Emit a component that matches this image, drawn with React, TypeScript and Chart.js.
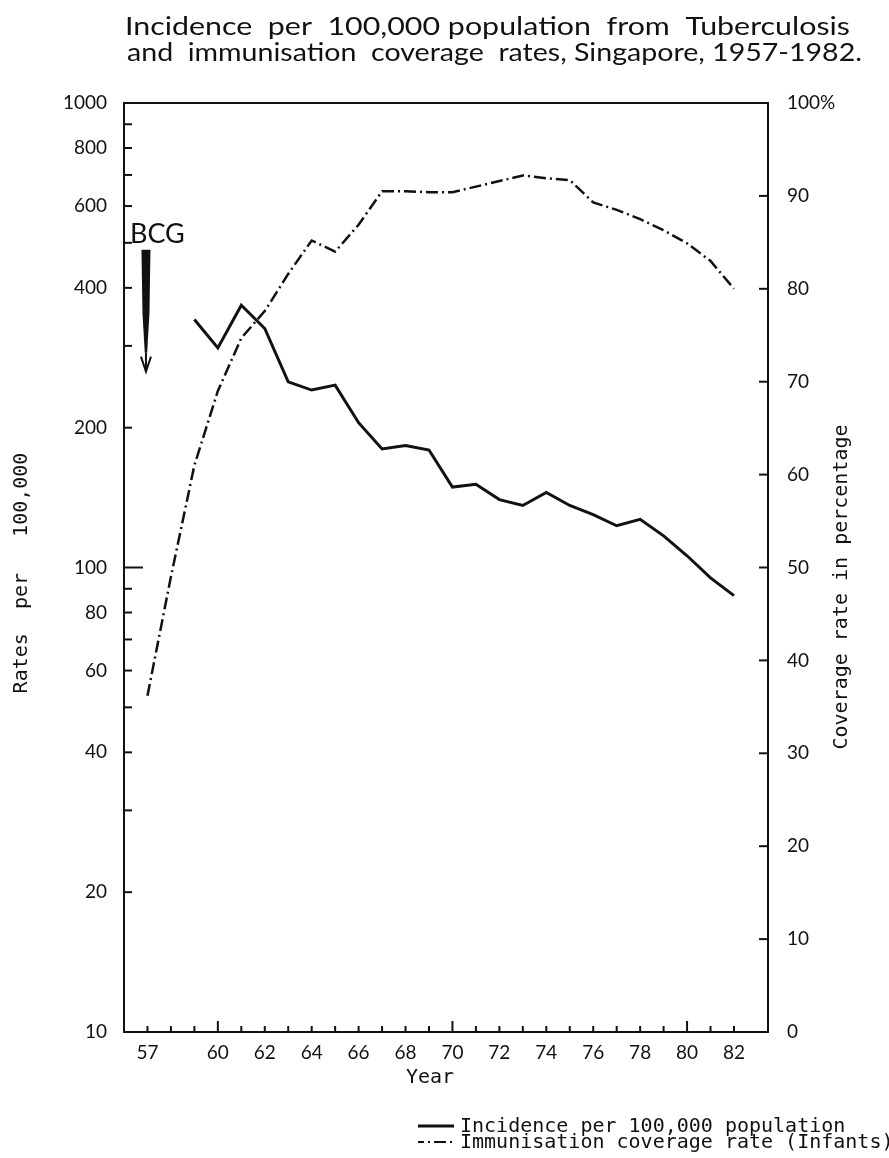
import React, { useEffect, useRef } from "react";
import { Chart, registerables } from "chart.js";

Chart.register(...registerables);

// ---- data (years 1957-1982, shown as two-digit years) ----
const years = [57, 58, 59, 60, 61, 62, 63, 64, 65, 66, 67, 68, 69, 70, 71, 72, 73, 74, 75, 76, 77, 78, 79, 80, 81, 82];
const incidenceRates = [null, null, 342, 297, 367, 327, 251, 241, 247, 205, 180, 183, 179, 149, 151, 140, 136, 145, 136, 130, 123, 127, 117, 106, 95, 87];
const coverageRates = [36.2, 49, 61, 69, 74.7, 77.6, 81.6, 85.2, 84.0, 86.9, 90.5, 90.5, 90.4, 90.4, 91.0, 91.6, 92.2, 91.9, 91.7, 89.3, 88.5, 87.5, 86.3, 84.9, 83.0, 80.0];

const xTickLabels = [57, 60, 62, 64, 66, 68, 70, 72, 74, 76, 78, 80, 82];
const xMinorTicks = years;
const leftTickLabels = [10, 20, 40, 60, 80, 100, 200, 400, 600, 800, 1000];
const leftMinorTicks = [10, 20, 30, 40, 50, 60, 70, 80, 90, 100, 200, 300, 400, 500, 600, 700, 800, 900, 1000];
const rightTickValues = [0, 10, 20, 30, 40, 50, 60, 70, 80, 90, 100];

const titleLines = [
  "Incidence  per  100,000 population  from  Tuberculosis",
  "and  immunisation  coverage  rates, Singapore, 1957-1982.",
];
const leftAxisTitle = "Rates  per   100,000";
const rightAxisTitle = "Coverage rate in percentage";
const xAxisTitle = "Year";
const legendLabels = ["Incidence per 100,000 population", "Immunisation coverage rate (Infants)"];
const bcgLabel = "BCG";

const INK = "#111111";
const SANS = "Lato, 'Open Sans', sans-serif";
const MONO = "'DejaVu Sans Mono', monospace";
const DASHDOT = [12, 4, 2, 4];

function line(ctx: CanvasRenderingContext2D, x1: number, y1: number, x2: number, y2: number) {
  ctx.beginPath();
  ctx.moveTo(x1, y1);
  ctx.lineTo(x2, y2);
  ctx.stroke();
}

function fitText(ctx: CanvasRenderingContext2D, text: string, x: number, y: number, width: number) {
  const w = ctx.measureText(text).width;
  ctx.save();
  ctx.translate(x, y);
  ctx.scale(width / w, 1);
  ctx.fillText(text, 0, 0);
  ctx.restore();
}

const annotations = {
  id: "annotations",
  afterDraw(chart: any) {
    const { ctx, chartArea: a, scales } = chart;
    const xs = scales.x;
    const yl = scales.y;
    const yr = scales.y2;
    ctx.save();
    ctx.strokeStyle = INK;
    ctx.fillStyle = INK;
    ctx.lineCap = "butt";

    // frame
    ctx.lineWidth = 2;
    ctx.strokeRect(a.left, a.top, a.right - a.left, a.bottom - a.top);

    // inward tick marks
    ctx.lineWidth = 2;
    leftMinorTicks.forEach((v) => {
      const y = yl.getPixelForValue(v);
      line(ctx, a.left, y, a.left + (v === 100 ? 19 : 8), y);
    });
    rightTickValues.forEach((v) => {
      const y = yr.getPixelForValue(v);
      line(ctx, a.right - 9, y, a.right, y);
    });
    xMinorTicks.forEach((v) => {
      const x = xs.getPixelForValue(v);
      line(ctx, x, a.bottom, x, a.bottom - (v % 10 === 0 ? 11 : 6));
    });

    // title
    ctx.textBaseline = "alphabetic";
    ctx.textAlign = "left";
    ctx.font = `25px ${SANS}`;
    fitText(ctx, titleLines[0], 125, 35, 725);
    fitText(ctx, titleLines[1], 127, 61, 735);

    // axis titles
    ctx.font = `20px ${MONO}`;
    ctx.textAlign = "center";
    ctx.textBaseline = "middle";
    ctx.save();
    ctx.translate(22, 573);
    ctx.rotate(-Math.PI / 2);
    ctx.fillText(leftAxisTitle, 0, 0);
    ctx.restore();
    ctx.save();
    ctx.translate(842, 587);
    ctx.rotate(-Math.PI / 2);
    ctx.fillText(rightAxisTitle, 0, 0);
    ctx.restore();
    ctx.textBaseline = "alphabetic";
    ctx.fillText(xAxisTitle, 430, 1083);

    // legend
    ctx.textAlign = "left";
    const ly = [1126, 1142];
    ctx.fillText(legendLabels[0], 460, 1132);
    ctx.fillText(legendLabels[1], 460, 1148);
    ctx.lineWidth = 3;
    line(ctx, 418, ly[0], 454, ly[0]);
    ctx.lineWidth = 2;
    ctx.setLineDash(DASHDOT);
    ctx.lineDashOffset = 6;
    line(ctx, 418, ly[1], 454, ly[1]);
    ctx.setLineDash([]);

    // BCG annotation with arrow (anchored to 1957 and the rate scale)
    const bx = xs.getPixelForValue(57) - 1.5;
    ctx.font = `27px ${SANS}`;
    ctx.textAlign = "left";
    ctx.fillText(bcgLabel, bx - 16, yl.getPixelForValue(500));
    const yTop = yl.getPixelForValue(483);
    const yMid = yl.getPixelForValue(353);
    const yThin = yl.getPixelForValue(290);
    const yTip = yl.getPixelForValue(264);
    ctx.beginPath();
    ctx.moveTo(bx - 4.5, yTop);
    ctx.lineTo(bx + 4.5, yTop);
    ctx.lineTo(bx + 3.5, yMid);
    ctx.lineTo(bx + 1.2, yThin);
    ctx.lineTo(bx - 1.2, yThin);
    ctx.lineTo(bx - 3.5, yMid);
    ctx.closePath();
    ctx.fill();
    ctx.lineWidth = 2;
    line(ctx, bx, yThin, bx, yTip);
    ctx.beginPath();
    ctx.moveTo(bx - 5, yTip - 15);
    ctx.lineTo(bx, yTip);
    ctx.lineTo(bx + 5, yTip - 15);
    ctx.stroke();

    ctx.restore();
  },
};

export default function App() {
  const ref = useRef<HTMLCanvasElement | null>(null);

  useEffect(() => {
    document.body.style.margin = "0";
    const canvas = ref.current;
    if (!canvas) return;
    const tickFont = { family: SANS, size: 19 };
    const chart = new Chart(canvas, {
      type: "line",
      data: {
        datasets: [
          {
            label: legendLabels[0],
            data: years.map((y, i) => ({ x: y, y: incidenceRates[i] })) as any,
            yAxisID: "y",
            borderColor: INK,
            borderWidth: 3,
            pointRadius: 0,
            tension: 0,
            spanGaps: false,
          },
          {
            label: legendLabels[1],
            data: years.map((y, i) => ({ x: y, y: coverageRates[i] })) as any,
            yAxisID: "y2",
            borderColor: INK,
            borderWidth: 2.5,
            borderDash: DASHDOT,
            pointRadius: 0,
            tension: 0,
          },
        ],
      },
      options: {
        animation: false,
        responsive: false,
        maintainAspectRatio: false,
        layout: { padding: { top: 103, left: 0, right: 0, bottom: 0 } },
        plugins: { legend: { display: false }, tooltip: { enabled: false }, title: { display: false } },
        scales: {
          x: {
            type: "linear",
            min: 56,
            max: 83.45,
            grid: { display: false, drawTicks: false },
            border: { display: false },
            afterBuildTicks: (s: any) => {
              s.ticks = xTickLabels.map((v) => ({ value: v }));
            },
            afterFit: (s: any) => {
              s.height = 126;
              s.paddingLeft = 0;
              s.paddingRight = 0;
            },
            ticks: {
              autoSkip: false,
              maxRotation: 0,
              padding: 9,
              color: INK,
              font: tickFont,
              callback: (v: any) => String(v),
            },
          },
          y: {
            type: "logarithmic",
            position: "left",
            min: 10,
            max: 1000,
            grid: { display: false, drawTicks: false },
            border: { display: false },
            afterBuildTicks: (s: any) => {
              s.ticks = leftTickLabels.map((v) => ({ value: v }));
            },
            afterFit: (s: any) => {
              s.width = 124;
              s.paddingTop = 0;
              s.paddingBottom = 0;
            },
            ticks: {
              autoSkip: false,
              padding: 17,
              color: INK,
              font: tickFont,
              callback: (v: any) => String(v),
            },
          },
          y2: {
            type: "linear",
            position: "right",
            min: 0,
            max: 100,
            grid: { display: false, drawTicks: false },
            border: { display: false },
            afterBuildTicks: (s: any) => {
              s.ticks = rightTickValues.map((v) => ({ value: v }));
            },
            afterFit: (s: any) => {
              s.width = 121;
              s.paddingTop = 0;
              s.paddingBottom = 0;
            },
            ticks: {
              autoSkip: false,
              padding: 19,
              color: INK,
              font: tickFont,
              callback: (v: any) => (v === 100 ? "100%" : String(v)),
            },
          },
        },
      },
      plugins: [annotations],
    });
    return () => chart.destroy();
  }, []);

  return (
    <div style={{ width: 889, height: 1158, background: "#fff" }}>
      <canvas ref={ref} width={889} height={1158} style={{ display: "block", width: 889, height: 1158 }} />
    </div>
  );
}
